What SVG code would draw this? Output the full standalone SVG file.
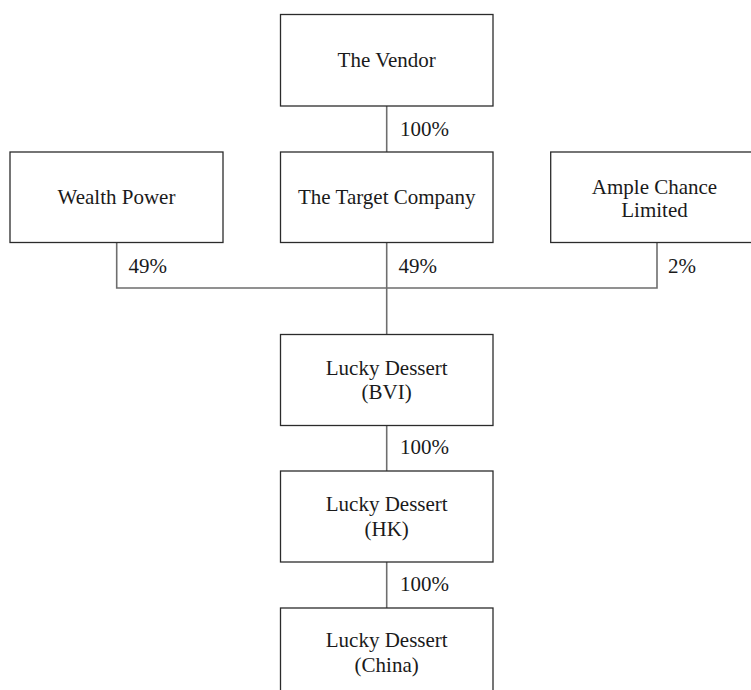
<svg xmlns="http://www.w3.org/2000/svg" width="751" height="690" viewBox="0 0 751 690">
<style>
.box{fill:#fff;stroke:#2b2b2b;stroke-width:1.3}
.ln{fill:none;stroke:#6e6e6e;stroke-width:1.6}
text{font-family:"Liberation Serif","Times New Roman",serif;font-size:21px;fill:#1a1a1a}
.c{text-anchor:middle}
</style>
<rect width="751" height="690" fill="#fff"/>
<g id="connectors">
<line class="ln" x1="386.7" y1="106" x2="386.7" y2="152"/>
<polyline class="ln" points="116.7,242.5 116.7,288 657,288 657,242.5"/>
<line class="ln" x1="386.7" y1="242.5" x2="386.7" y2="334.5"/>
<line class="ln" x1="386.7" y1="425.5" x2="386.7" y2="471"/>
<line class="ln" x1="386.7" y1="562" x2="386.7" y2="608"/>
<text x="400" y="136">100%</text>
<text x="128.5" y="273">49%</text>
<text x="398.5" y="273">49%</text>
<text x="668" y="273">2%</text>
<text x="400" y="454">100%</text>
<text x="400" y="591">100%</text>
</g>
<g id="vendor">
<rect class="box" x="280.5" y="14.5" width="212.5" height="91.5"/>
<text class="c" x="386.7" y="67">The Vendor</text>
</g>
<g id="wealth">
<rect class="box" x="10" y="152" width="213" height="90.5"/>
<text class="c" x="116.5" y="203.5">Wealth Power</text>
</g>
<g id="target">
<rect class="box" x="280.5" y="152" width="212.5" height="90.5"/>
<text class="c" x="386.7" y="203.5">The Target Company</text>
</g>
<g id="ample">
<rect class="box" x="550.7" y="152" width="213" height="90.5"/>
<text class="c" x="654.5" y="193.5">Ample Chance</text>
<text class="c" x="654.5" y="216.5">Limited</text>
</g>
<g id="bvi">
<rect class="box" x="280.5" y="334.5" width="212.5" height="91"/>
<text class="c" x="386.7" y="374.5">Lucky Dessert</text>
<text class="c" x="386.7" y="398.5">(BVI)</text>
</g>
<g id="hk">
<rect class="box" x="280.5" y="471" width="212.5" height="91"/>
<text class="c" x="386.7" y="511">Lucky Dessert</text>
<text class="c" x="386.7" y="536">(HK)</text>
</g>
<g id="china">
<rect class="box" x="280.5" y="608" width="212.5" height="91"/>
<text class="c" x="386.7" y="647">Lucky Dessert</text>
<text class="c" x="386.7" y="672">(China)</text>
</g>
</svg>
